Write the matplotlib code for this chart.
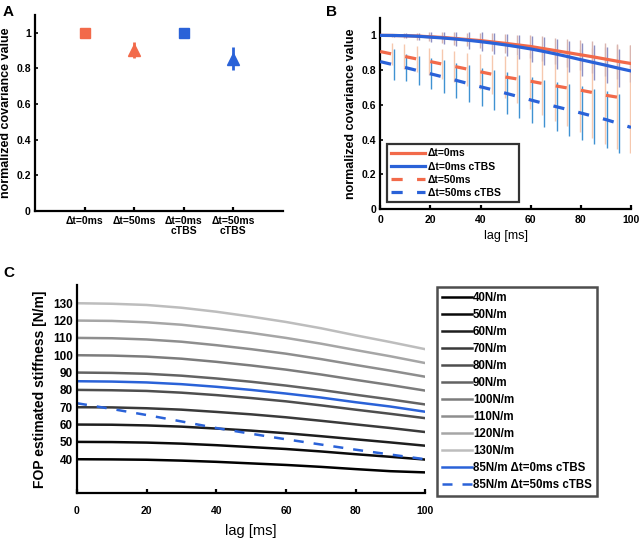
import matplotlib
matplotlib.use('Agg')
import matplotlib.pyplot as plt
import numpy as np

# ---- panel A data ----
condA = ["\u0394t=0ms", "\u0394t=50ms", "\u0394t=0ms\ncTBS", "\u0394t=50ms\ncTBS"]
valA = [1.0, 0.905, 1.0, 0.855]
errA = [0.0, 0.045, 0.0, 0.065]

# ---- panel B data ----
lagB = [0, 5, 10, 15, 20, 25, 30, 35, 40, 45, 50, 55, 60, 65, 70, 75, 80, 85, 90, 95, 100]
cov_0ms = [1.0, 0.9995, 0.998, 0.996, 0.992, 0.988, 0.982, 0.976, 0.97, 0.962, 0.954,
           0.945, 0.936, 0.924, 0.912, 0.9, 0.888, 0.876, 0.863, 0.85, 0.838]
cov_0ms_ctbs = [1.0, 0.9995, 0.998, 0.995, 0.99, 0.985, 0.979, 0.972, 0.964, 0.955, 0.945,
                0.934, 0.922, 0.908, 0.893, 0.877, 0.86, 0.844, 0.828, 0.811, 0.795]
cov_50ms = [0.907, 0.892, 0.878, 0.863, 0.849, 0.834, 0.82, 0.805, 0.79, 0.775, 0.76,
            0.748, 0.736, 0.722, 0.709, 0.696, 0.684, 0.67, 0.655, 0.643, 0.632]
cov_50ms_ctbs = [0.849, 0.832, 0.815, 0.797, 0.779, 0.761, 0.742, 0.723, 0.704, 0.686, 0.667,
                 0.648, 0.628, 0.609, 0.59, 0.572, 0.553, 0.534, 0.515, 0.493, 0.47]
# error half-widths at lags 5..100
err_0ms = [0.01, 0.015, 0.02, 0.025, 0.03, 0.035, 0.04, 0.045, 0.05, 0.055,
           0.06, 0.065, 0.07, 0.075, 0.08, 0.085, 0.09, 0.095, 0.1, 0.105]
err_0ms_ctbs = [0.01, 0.015, 0.02, 0.03, 0.035, 0.04, 0.05, 0.055, 0.06, 0.065,
                0.07, 0.075, 0.08, 0.085, 0.09, 0.095, 0.1, 0.105, 0.11, 0.115]
err_50ms = [0.063, 0.07, 0.075, 0.08, 0.085, 0.09, 0.095, 0.1, 0.11, 0.12,
            0.14, 0.16, 0.18, 0.2, 0.22, 0.24, 0.26, 0.28, 0.3, 0.31]
err_50ms_ctbs = [0.09, 0.08, 0.085, 0.09, 0.095, 0.1, 0.105, 0.11, 0.115, 0.12,
                 0.125, 0.13, 0.135, 0.14, 0.15, 0.155, 0.16, 0.165, 0.17, 0.18]

# ---- panel C data ----
lagC = [0, 10, 20, 30, 40, 50, 60, 70, 80, 90, 100]
stiff_labels = ["40N/m", "50N/m", "60N/m", "70N/m", "80N/m", "90N/m",
                "100N/m", "110N/m", "120N/m", "130N/m"]
stiff_curves = [
    [40, 39.9, 39.7, 39.2, 38.5, 37.6, 36.7, 35.6, 34.3, 33.1, 32.4],
    [50, 49.9, 49.6, 49.0, 48.1, 47.0, 45.9, 44.5, 42.9, 41.4, 39.8],
    [60, 59.9, 59.5, 58.8, 57.7, 56.5, 55.0, 53.3, 51.5, 49.7, 47.8],
    [70, 69.9, 69.4, 68.6, 67.3, 65.9, 64.2, 62.2, 60.1, 58.0, 55.7],
    [80, 79.8, 79.4, 78.4, 77.0, 75.3, 73.4, 71.1, 68.6, 66.2, 63.7],
    [90, 89.8, 89.3, 88.2, 86.6, 84.7, 82.5, 80.0, 77.2, 74.5, 71.6],
    [100, 99.8, 99.2, 98.0, 96.2, 94.1, 91.7, 88.9, 85.8, 82.8, 79.6],
    [110, 109.8, 109.1, 107.8, 105.8, 103.5, 100.9, 97.8, 94.4, 91.1, 87.6],
    [120, 119.8, 119.0, 117.6, 115.4, 112.9, 110.0, 106.7, 103.0, 99.4, 95.5],
    [130, 129.7, 129.0, 127.4, 125.1, 122.3, 119.2, 115.6, 111.5, 107.6, 103.5],
]
stiff_85_0ms = [85, 84.8, 84.3, 83.3, 81.8, 80.0, 77.9, 75.6, 72.9, 70.4, 67.4]
stiff_85_50ms = [72.3, 69.0, 65.5, 61.8, 58.0, 54.7, 51.5, 48.5, 45.5, 42.7, 40.0]

ORANGE = '#f26a4a'
BLUE = '#2a62d8'
grays = ['#000000', '#0a0a0a', '#1e1e1e', '#3a3a3a', '#4e4e4e', '#636363',
         '#7c7c7c', '#8e8e8e', '#a6a6a6', '#bdbdbd']

plt.rcParams.update({
    'font.family': 'Liberation Sans',
    'font.weight': 'bold',
    'axes.labelweight': 'bold',
    'axes.linewidth': 1.6,
    'xtick.direction': 'in',
    'ytick.direction': 'in',
    'xtick.major.width': 1.6,
    'ytick.major.width': 1.2,
    'xtick.major.size': 3,
    'ytick.major.size': 2,
})

fig = plt.figure(figsize=(6.4, 5.38), dpi=100)


def style(ax):
    ax.spines['top'].set_visible(False)
    ax.spines['right'].set_visible(False)
    ax.tick_params(labelsize=7.5, pad=4)


# ---------------- A ----------------
axA = fig.add_axes([0.0547, 0.608, 0.3875, 0.364])
style(axA)
xA = [1, 2, 3, 4]
axA.errorbar(xA[0], valA[0], yerr=errA[0], fmt='s', color=ORANGE, ms=6.5, mec=ORANGE)
axA.errorbar(xA[1], valA[1], yerr=errA[1], fmt='^', color=ORANGE, ms=8, elinewidth=2, capsize=0)
axA.errorbar(xA[2], valA[2], yerr=errA[2], fmt='s', color=BLUE, ms=6.5, mec=BLUE)
axA.errorbar(xA[3], valA[3], yerr=errA[3], fmt='^', color=BLUE, ms=8, elinewidth=2, capsize=0)
axA.set_xlim(0, 5)
axA.set_ylim(0, 1.1)
axA.set_xticks(xA)
axA.set_xticklabels(condA, fontsize=7.5, linespacing=0.95)
axA.set_yticks([0, 0.2, 0.4, 0.6, 0.8, 1])
axA.set_yticklabels(['0', '0.2', '0.4', '0.6', '0.8', '1'])
axA.tick_params(axis='y', pad=3)
axA.set_ylabel('normalized covariance value', fontsize=9, labelpad=3)
fig.text(0.004, 0.99, 'A', fontsize=11, fontweight='bold', va='top')

# ---------------- B ----------------
axB = fig.add_axes([0.594, 0.6115, 0.392, 0.355])
style(axB)
lag_err = lagB[1:]
off = 0.4
axB.errorbar(np.array(lag_err) - off, cov_50ms[1:], yerr=err_50ms, fmt='none',
             ecolor='#f6c8ae', elinewidth=1.0, capsize=0, zorder=1)
axB.errorbar(np.array(lag_err) + off, cov_50ms_ctbs[1:], yerr=err_50ms_ctbs, fmt='none',
             ecolor='#3f92d2', elinewidth=1.0, capsize=0, zorder=1.2)
axB.errorbar(np.array(lag_err) - off, cov_0ms[1:], yerr=err_0ms, fmt='none',
             ecolor='#d9b5b0', elinewidth=1.0, capsize=0, zorder=1.1)
axB.errorbar(np.array(lag_err) + off, cov_0ms_ctbs[1:], yerr=err_0ms_ctbs, fmt='none',
             ecolor='#8c8fc4', elinewidth=1.0, capsize=0, zorder=1.1)
axB.plot(lagB, cov_0ms, color=ORANGE, lw=2.3, label='\u0394t=0ms', zorder=3)
axB.plot(lagB, cov_0ms_ctbs, color=BLUE, lw=2.3, label='\u0394t=0ms cTBS', zorder=3)
axB.plot(lagB, cov_50ms, color=ORANGE, lw=2.3, ls=(0, (3.5, 4.5)), label='\u0394t=50ms', zorder=3)
axB.plot(lagB, cov_50ms_ctbs, color=BLUE, lw=2.3, ls=(0, (3.5, 4.5)), label='\u0394t=50ms cTBS', zorder=3)
axB.set_xlim(0, 100)
axB.set_ylim(0, 1.1)
axB.set_xticks([0, 20, 40, 60, 80, 100])
axB.set_yticks([0, 0.2, 0.4, 0.6, 0.8, 1])
axB.set_yticklabels(['0', '0.2', '0.4', '0.6', '0.8', '1'])
axB.tick_params(axis='y', pad=3)
axB.set_xlabel('lag [ms]', fontsize=9, fontweight='normal', labelpad=4)
axB.set_ylabel('normalized covariance value', fontsize=9, labelpad=3)
legB = axB.legend(loc='lower left', bbox_to_anchor=(0.6047, 0.6245, 0.206, 0.11),
                  bbox_transform=fig.transFigure, mode='expand',
                  fontsize=7.5, frameon=True, fancybox=False, borderaxespad=0,
                  handlelength=3.2, handletextpad=0.3, labelspacing=0.3,
                  borderpad=0.4)
legB.get_frame().set_edgecolor('black')
legB.get_frame().set_linewidth(1.6)
fig.text(0.51, 0.99, 'B', fontsize=11, fontweight='bold', va='top')

# ---------------- C ----------------
axC = fig.add_axes([0.1203, 0.0836, 0.544, 0.3866])
style(axC)
for curve, lab, col in zip(stiff_curves, stiff_labels, grays):
    axC.plot(lagC, curve, color=col, lw=1.8, label=lab)
axC.plot(lagC, stiff_85_0ms, color=BLUE, lw=1.8, label='85N/m \u0394t=0ms cTBS')
axC.plot(lagC, stiff_85_50ms, color=BLUE, lw=1.8, ls=(0, (4, 4)), label='85N/m \u0394t=50ms cTBS')
axC.set_xlim(0, 100)
axC.set_ylim(20.5, 140.5)
axC.set_xticks([0, 20, 40, 60, 80, 100])
axC.set_yticks(list(range(40, 140, 10)))
axC.tick_params(axis='y', length=0, labelsize=8.5, pad=3)
axC.tick_params(axis='x', labelsize=7.5, pad=9)
axC.set_xlabel('lag [ms]', fontsize=10.5, fontweight='normal', labelpad=6)
axC.set_ylabel('FOP estimated stiffness [N/m]', fontsize=10, labelpad=4)
legC = axC.legend(loc='lower left', bbox_to_anchor=(0.683, 0.078), bbox_transform=fig.transFigure,
                  fontsize=8.3, frameon=True, fancybox=False, borderaxespad=0,
                  handlelength=2.6, handletextpad=0.05, labelspacing=0.43,
                  borderpad=0.45)
legC.get_frame().set_edgecolor('#222222')
legC.get_frame().set_linewidth(1.8)
fig.text(0.006, 0.505, 'C', fontsize=11, fontweight='bold', va='top')

fig.savefig('out.png', dpi=100)
plt.close(fig)
